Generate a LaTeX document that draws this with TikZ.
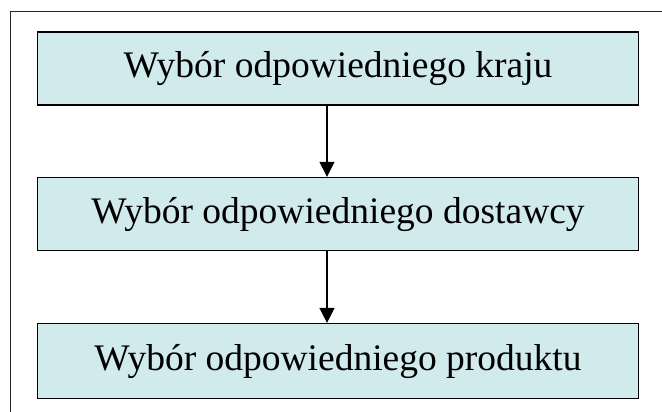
\documentclass[tikz,border=0pt]{standalone}
\usepackage{fontspec}
\setmainfont{Liberation Serif}
\usetikzlibrary{positioning,arrows.meta}
\definecolor{boxfill}{RGB}{209,234,236}
\tikzset{>={Triangle[length=15pt,width=15pt]}}
\tikzset{etap/.style={draw=black, line width=1.6pt, fill=boxfill, minimum width=601pt, minimum height=73pt, inner sep=0pt, font=\fontsize{37.5pt}{45pt}\selectfont}}

\begin{document}
\begin{tikzpicture}[x=1pt,y=1pt]
      \useasboundingbox (0,0) rectangle (662,412);
      \draw[line width=0.9pt, black!85] (10.7,0) -- (10.7,400.5) -- (662,400.5);
      \node[etap] (kraj) at (338,343.5) {Wybór odpowiedniego kraju};
      \node[etap, below=71pt of kraj] (dostawca) {Wybór odpowiedniego dostawcy};
      \node[etap, below=71.5pt of dostawca, minimum height=75pt] (produkt) {Wybór odpowiedniego produktu};
      \draw[->, line width=1.5pt] ([xshift=-11pt]kraj.south) -- ([xshift=-11pt]dostawca.north);
      \draw[->, line width=1.5pt] ([xshift=-11pt]dostawca.south) -- ([xshift=-11pt]produkt.north);
    \end{tikzpicture}
\end{document}
